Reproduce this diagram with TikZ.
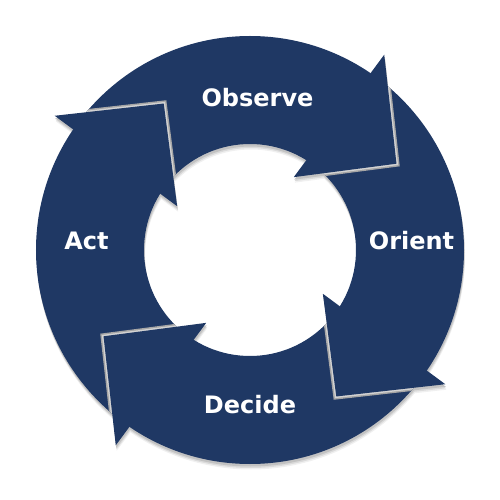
\documentclass[tikz,border=0pt]{standalone}
\usepackage{fontspec}
\newfontfamily\lblfont{DejaVu Sans}
\definecolor{navy}{HTML}{1F3864}
\tikzset{
  lbl/.style={text=white, font=\lblfont\bfseries\fontsize{24}{28}\selectfont, anchor=base, inner sep=0pt},
  ringfill/.style={fill=navy, even odd rule},
  edgeglow/.style={draw=#1, line join=miter},
}
\begin{document}
\begin{tikzpicture}[x=1pt,y=1pt]
\useasboundingbox (-250,-250) rectangle (250,250);
\def\Ro{214}
\def\Ri{106}
% drop shadow of ring and heads
\foreach \dx/\dy/\c in {1/-5.5/gray!12, 0.8/-4/gray!28, 0.5/-2.5/gray!48}{
  \begin{scope}[shift={(\dx,\dy)}]
    \fill[\c, even odd rule] (0,0) circle (\Ro) (0,0) circle (\Ri);
    \foreach \a in {0,-90,-180,-270}{
      \fill[\c] (\a+55.5:237) -- (\a+30.5:170) -- (\a+59:85) -- cycle;
    }
  \end{scope}
}
% ring
\path[ringfill] (0,0) circle (\Ro) (0,0) circle (\Ri);
% grey outline along the front edges of the heads, on the ring only
\begin{scope}[even odd rule]
  \clip (0,0) circle (\Ro) (0,0) circle (\Ri);
  \foreach \a in {0,-90,-180,-270}{
    \draw[edgeglow=gray!70, line width=6pt] (\a+55.5:237) -- (\a+30.5:170) -- (\a+59:85);
    \draw[edgeglow=gray!35, line width=3pt] (\a+55.5:237) -- (\a+30.5:170) -- (\a+59:85);
  }
\end{scope}
% heads
\foreach \a in {0,-90,-180,-270}{
  \fill[navy] (\a+55.5:237) -- (\a+30.5:170) -- (\a+59:85) -- cycle;
}
% labels
\node[lbl] (observe) at (7.5,143.5) {Observe};
\node[lbl] (orient) at (161.5,0) {Orient};
\node[lbl] (decide) at (0,-163) {Decide};
\node[lbl] (act) at (-163.5,0) {Act};
\end{tikzpicture}
\end{document}
